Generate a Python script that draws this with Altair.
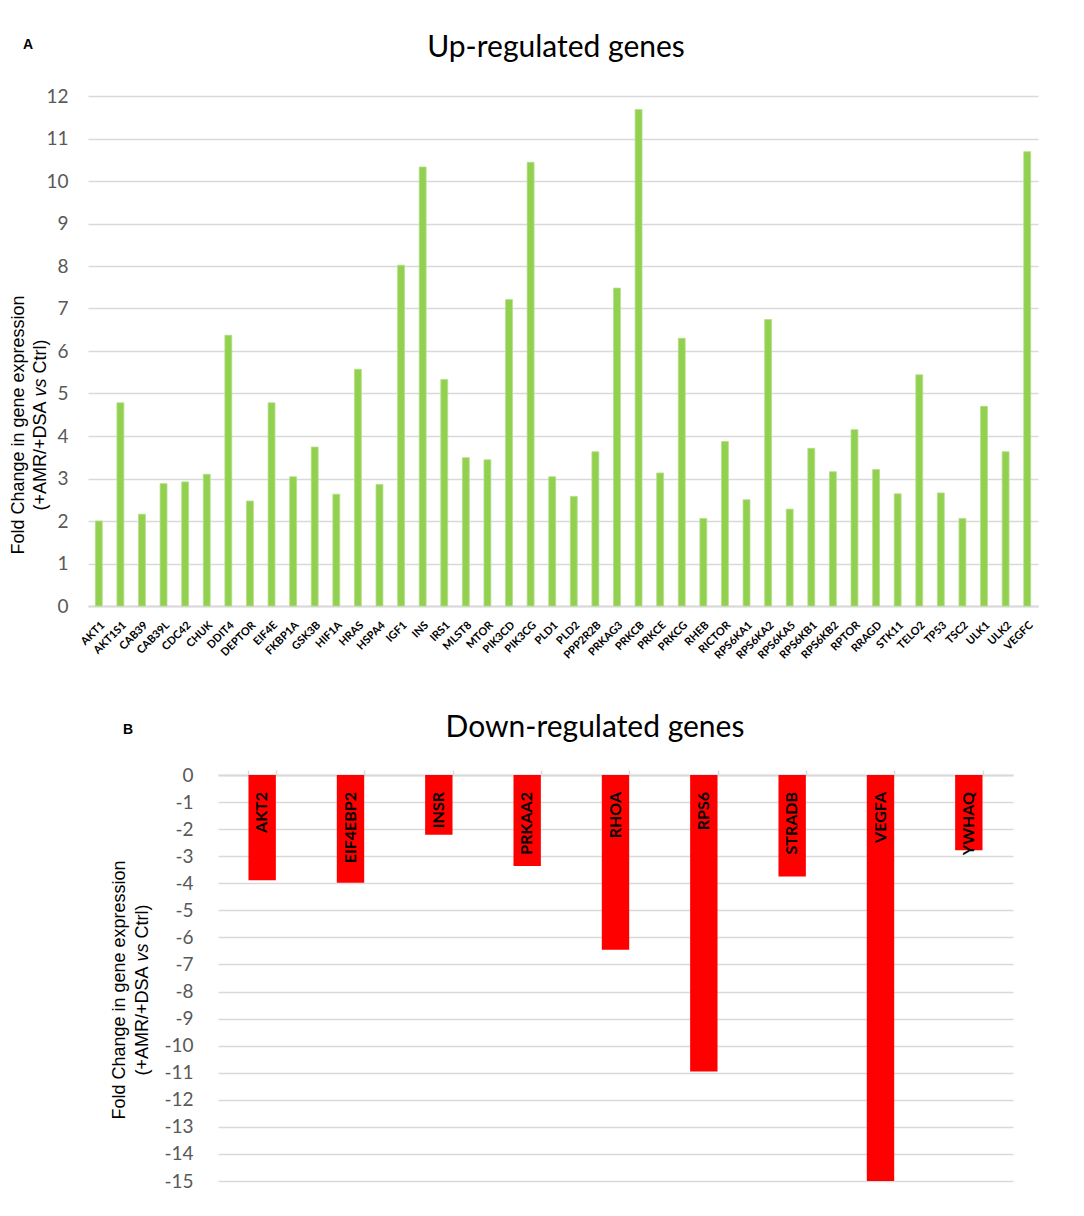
import altair as alt
import pandas as pd

up_genes = ["AKT1", "AKT1S1", "CAB39", "CAB39L", "CDC42", "CHUK", "DDIT4", "DEPTOR",
            "EIF4E", "FKBP1A", "GSK3B", "HIF1A", "HRAS", "HSPA4", "IGF1", "INS", "IRS1",
            "MLST8", "MTOR", "PIK3CD", "PIK3CG", "PLD1", "PLD2", "PPP2R2B", "PRKAG3",
            "PRKCB", "PRKCE", "PRKCG", "RHEB", "RICTOR", "RPS6KA1", "RPS6KA2", "RPS6KA5",
            "RPS6KB1", "RPS6KB2", "RPTOR", "RRAGD", "STK11", "TELO2", "TP53", "TSC2",
            "ULK1", "ULK2", "VEGFC"]
up_values = [2.00, 4.78, 2.16, 2.88, 2.92, 3.10, 6.37, 2.47,
             4.78, 3.04, 3.74, 2.63, 5.57, 2.86, 8.02, 10.33, 5.33,
             3.49, 3.44, 7.21, 10.44, 3.04, 2.58, 3.63, 7.48,
             11.68, 3.13, 6.30, 2.06, 3.87, 2.50, 6.74, 2.28,
             3.71, 3.16, 4.15, 3.21, 2.64, 5.44, 2.66, 2.06,
             4.70, 3.63, 10.69]
up_ticks = [0, 1, 2, 3, 4, 5, 6, 7, 8, 9, 10, 11, 12]

down_genes = ["AKT2", "EIF4EBP2", "INSR", "PRKAA2", "RHOA", "RPS6", "STRADB", "VEGFA", "YWHAQ"]
down_values = [-3.89, -3.98, -2.21, -3.36, -6.46, -10.95, -3.75, -15.0, -2.78]
down_ticks = [0, -1, -2, -3, -4, -5, -6, -7, -8, -9, -10, -11, -12, -13, -14, -15]

title_up = "Up-regulated genes"
title_down = "Down-regulated genes"
ytitle_line1 = "Fold Change in gene expression"
ytitle_parts = ["(+AMR/+DSA", "vs", "Ctrl)"]   # middle part is italic

up_df = pd.DataFrame({"gene": up_genes, "fc": up_values})
down_df = pd.DataFrame({"gene": down_genes, "fc": down_values})

GRID = "#d9d9d9"
LABEL = "#595959"


def note(txt, x, y, **kw):
    """A single piece of annotation text placed in the panel's pixel frame."""
    return alt.Chart(pd.DataFrame({"t": [txt]})).mark_text(**kw).encode(
        text="t:N", x=alt.value(x), y=alt.value(y))


def y_title(x1, x2, yc):
    """Two-line rotated axis title, with 'vs' in italics (Arial metrics)."""
    fs = 18
    start = yc + 85.5          # bottom end of line 2 (text reads upwards)
    common = dict(font="Liberation Sans", fontSize=fs, angle=270, baseline="middle",
                  color="black")
    return [
        note(ytitle_line1, x1, yc, align="center", **common),
        note(ytitle_parts[0], x2, start, align="left", **common),
        note(ytitle_parts[1], x2, start - 114, align="left", fontStyle="italic", **common),
        note(ytitle_parts[2], x2, start - 137, align="left", **common),
    ]


up_bars = alt.Chart(up_df).mark_bar(color="#92d050", stroke="#b5dd8a", strokeWidth=0.8).encode(
    x=alt.X("gene:N", sort=up_genes,
            scale=alt.Scale(paddingInner=0.68, paddingOuter=0.34),
            axis=alt.Axis(title=None, labelAngle=-45, labelFont="Lato", labelFontSize=11,
                          labelFontWeight="bold", labelColor="black", ticks=False,
                          domainColor=GRID, domainWidth=2, labelPadding=13, grid=False)),
    y=alt.Y("fc:Q", scale=alt.Scale(domain=[0, 12], nice=False),
            axis=alt.Axis(values=up_ticks, title=None,
                          labelFont="Lato", labelFontSize=19, labelColor=LABEL,
                          labelPadding=20, ticks=False, domain=False, grid=True,
                          labelOverlap=False, gridColor=GRID, gridWidth=1.5)),
    tooltip=["gene", "fc"],
)

panel_a = alt.layer(
    up_bars,
    note("A", -60, -51, font="Liberation Sans", fontWeight="bold", fontSize=14, color="black"),
    note(title_up, 468, -48, font="Lato", fontSize=30, color="black"),
    note(".", -80, 0, align="left", fontSize=4, color="white"),
    *y_title(-69, -47, 329),
).properties(width=950, height=510)

x_scale_b = alt.Scale(paddingInner=0.69, paddingOuter=0.345)
y_scale_b = alt.Scale(domain=[-15, 0], nice=False)
x_axis_b = alt.Axis(orient="top", title=None, labels=False, ticks=True, tickBand="extent",
                    tickSize=5, tickColor=GRID, tickWidth=1.5, domainColor=GRID,
                    domainWidth=2, grid=False)
y_axis_b = alt.Axis(values=down_ticks, labelExpr="datum.value + ''", title=None,
                    labelFont="Lato", labelFontSize=19, labelColor=LABEL,
                    labelPadding=25, ticks=False, domain=False, grid=True,
                    labelOverlap=False, labelSeparation=0, gridColor=GRID, gridWidth=1.5)

down_bars = alt.Chart(down_df).mark_bar(color="#ff0000").encode(
    x=alt.X("gene:N", sort=down_genes, scale=x_scale_b, axis=x_axis_b),
    y=alt.Y("fc:Q", scale=y_scale_b, axis=y_axis_b),
    tooltip=["gene", "fc"],
)
down_text = alt.Chart(down_df).mark_text(
    angle=270, align="right", baseline="middle", dx=-17,
    font="Lato", fontWeight="bold", fontSize=16, color="black"
).encode(x=alt.X("gene:N", sort=down_genes, scale=x_scale_b, axis=x_axis_b),
         y=alt.Y(datum=0, scale=y_scale_b, axis=y_axis_b), text="gene:N")

panel_b = alt.layer(
    down_bars,
    down_text,
    note("B", -90, -45, font="Liberation Sans", fontWeight="bold", fontSize=14, color="black"),
    note(title_down, 377, -47, font="Lato", fontSize=30, color="black"),
    note(".", -120, 0, align="left", fontSize=4, color="white"),
    *y_title(-98, -75, 215),
).properties(width=795, height=406)

spacer = alt.Chart(pd.DataFrame({"t": [""]})).mark_text().encode(text="t:N").properties(
    width=10, height=10)

row_b = alt.hconcat(spacer, panel_b, spacing=0)

chart = alt.vconcat(panel_a, row_b, spacing=52).properties(
    padding={"left": 0, "top": 25, "right": 5, "bottom": 5}
).configure_view(stroke=None)

chart.save("out.html", embed_options={"renderer": "svg", "actions": False})
